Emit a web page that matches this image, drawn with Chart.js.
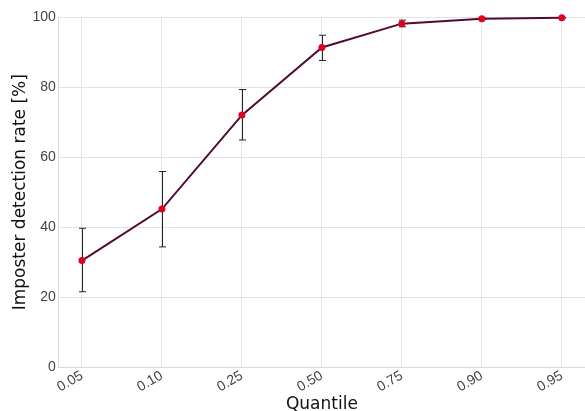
<!DOCTYPE html>
<html>
<head>
<meta charset="utf-8">
<script src="https://cdn.jsdelivr.net/npm/chart.js@4/dist/chart.umd.min.js"></script>
<style>
  html, body { margin: 0; padding: 0; background: #fff; }
  #wrap { width: 585px; height: 411px; }
</style>
</head>
<body>
<div id="wrap"><canvas id="c" width="585" height="411"></canvas></div>
<script>
// Quantile categories and imposter detection rate (%) with error bounds
const quantiles = ['0.05', '0.10', '0.25', '0.50', '0.75', '0.90', '0.95'];
const detectionRate = [30.5, 45.2, 72.0, 91.3, 98.1, 99.5, 99.8];
const errLow = [21.6, 34.4, 64.9, 87.6, 97.2, 99.3, 99.7];
const errHigh = [39.7, 55.9, 79.3, 94.8, 99.1, 99.7, 99.9];
const yTicks = [0, 20, 40, 60, 80, 100];

const points = detectionRate.map((v, i) => ({ x: i, y: v }));

// draws vertical error bars with small caps beneath the line
const errorBars = {
  id: 'errorBars',
  beforeDatasetsDraw(chart) {
    const { ctx, scales: { x, y } } = chart;
    ctx.save();
    ctx.strokeStyle = '#222';
    ctx.lineWidth = 1;
    for (let i = 0; i < quantiles.length; i++) {
      const px = Math.round(x.getPixelForValue(i)) + 0.5;
      const lo = y.getPixelForValue(errLow[i]);
      const hi = y.getPixelForValue(errHigh[i]);
      ctx.beginPath();
      ctx.moveTo(px, lo); ctx.lineTo(px, hi);
      ctx.moveTo(px - 3.5, hi); ctx.lineTo(px + 3.5, hi);
      ctx.moveTo(px - 3.5, lo); ctx.lineTo(px + 3.5, lo);
      ctx.stroke();
    }
    ctx.restore();
  }
};

new Chart(document.getElementById('c'), {
  type: 'line',
  data: {
    datasets: [{
      data: points,
      borderColor: '#520a35',
      borderWidth: 2,
      pointRadius: 3.5,
      pointBackgroundColor: '#e00020',
      pointBorderColor: '#e00020',
      pointBorderWidth: 0,
      tension: 0,
      clip: false
    }]
  },
  options: {
    responsive: false,
    animation: false,
    layout: { autoPadding: false, padding: { top: 17, right: 0, left: 10, bottom: -4 } },
    plugins: { legend: { display: false }, tooltip: { enabled: false } },
    scales: {
      x: {
        type: 'linear',
        min: -0.29,
        max: 6.29,
        afterBuildTicks(axis) { axis.ticks = quantiles.map((_, i) => ({ value: i })); },
        afterFit(axis) { axis.paddingRight = 0; },
        ticks: {
          callback: (v) => quantiles[v],
          minRotation: 30,
          maxRotation: 30,
          color: '#444',
          font: { family: 'Liberation Sans', size: 14 },
          padding: 0
        },
        grid: { color: '#e3e3e3', drawTicks: false },
        border: { color: '#d8d8d8' },
        title: {
          display: true,
          text: 'Quantile',
          color: '#111',
          font: { family: 'DejaVu Sans', size: 17 },
          padding: { top: -1, bottom: 0 }
        }
      },
      y: {
        min: 0,
        max: 100,
        afterBuildTicks(axis) { axis.ticks = yTicks.map(v => ({ value: v })); },
        ticks: {
          color: '#444',
          font: { family: 'Liberation Sans', size: 14 },
          padding: 3
        },
        grid: { color: '#e3e3e3', drawTicks: false },
        border: { color: '#d8d8d8' },
        title: {
          display: true,
          text: 'Imposter detection rate [%]',
          color: '#111',
          font: { family: 'DejaVu Sans', size: 17 },
          padding: { top: 0, bottom: -1 }
        }
      }
    }
  },
  plugins: [errorBars]
});
</script>
</body>
</html>
